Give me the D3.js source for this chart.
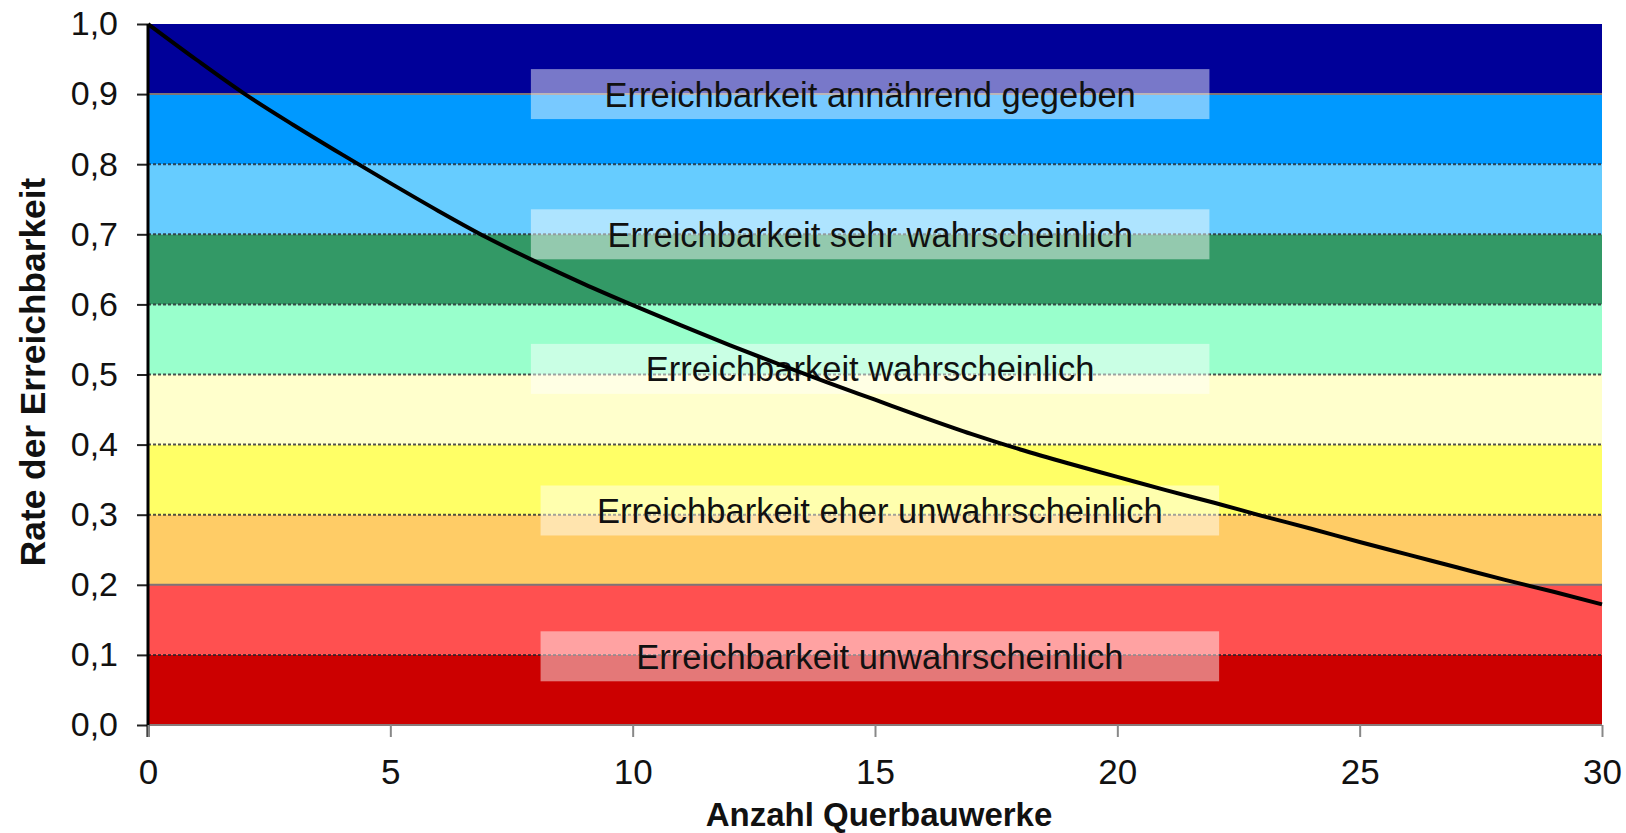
<!DOCTYPE html>
<html>
<head>
<meta charset="utf-8">
<script src="https://cdn.jsdelivr.net/npm/d3@7"></script>
<style>
  html, body { margin: 0; padding: 0; background: #fff; }
  svg { display: block; font-family: "Liberation Sans", Arial, sans-serif; }
</style>
</head>
<body>
<svg id="chart" width="1626" height="833"></svg>
<script>
// Anzahl Querbauwerke (x) and the resulting Rate der Erreichbarkeit (y)
const barrierCounts = [0, 1, 2, 3, 4, 5, 6, 7, 8, 9, 10, 11, 12, 13, 14, 15,
                       16, 17, 18, 19, 20, 21, 22, 23, 24, 25, 26, 27, 28, 29, 30];
const reachRate = [1.000, 0.949, 0.900, 0.856, 0.814, 0.773, 0.733, 0.695, 0.661, 0.629,
                   0.599, 0.570, 0.542, 0.515, 0.489, 0.464, 0.439, 0.415, 0.393, 0.373,
                   0.354, 0.335, 0.317, 0.298, 0.280, 0.261, 0.243, 0.225, 0.207, 0.190,
                   0.172];

// Background bands, 0.1 wide each, from bottom to top
const bandLower = [0.0, 0.1, 0.2, 0.3, 0.4, 0.5, 0.6, 0.7, 0.8, 0.9];
const bandColors = ["#cc0000", "#ff5050", "#ffcc66", "#ffff66", "#ffffcc",
                    "#99ffcc", "#339966", "#66ccff", "#0099ff", "#000099"];

// Zone labels and where they sit (y value of centre, x range of the box)
const zoneLabels = ["Erreichbarkeit annährend gegeben",
                    "Erreichbarkeit sehr wahrscheinlich",
                    "Erreichbarkeit wahrscheinlich",
                    "Erreichbarkeit eher unwahrscheinlich",
                    "Erreichbarkeit unwahrscheinlich"];
const zoneLabelY = [0.9, 0.7, 0.508, 0.306, 0.098];
const zoneLabelX0 = [7.9, 7.9, 7.9, 8.1, 8.1];
const zoneLabelX1 = [21.9, 21.9, 21.9, 22.1, 22.1];

const yTicks = [0, 0.1, 0.2, 0.3, 0.4, 0.5, 0.6, 0.7, 0.8, 0.9, 1.0];
const xTicks = [0, 5, 10, 15, 20, 25, 30];
const solidLines = [0.2, 0.9];

const margin = { left: 148, top: 24, right: 24, bottom: 108 };
const W = 1626, H = 833;
const iw = W - margin.left - margin.right;
const ih = H - margin.top - margin.bottom;

const svg = d3.select("#chart");
const g = svg.append("g").attr("transform", `translate(${margin.left},${margin.top})`);

const x = d3.scaleLinear().domain([0, 30]).range([0, iw]);
const y = d3.scaleLinear().domain([0, 1]).range([ih, 0]);

const isSolid = d => solidLines.some(s => Math.abs(s - d) < 1e-9);

// coloured bands
g.selectAll("rect.band").data(bandLower).join("rect")
  .attr("class", "band")
  .attr("x", 0)
  .attr("width", iw)
  .attr("y", d => y(d + 0.1))
  .attr("height", d => y(d) - y(d + 0.1))
  .attr("fill", (d, i) => bandColors[i]);

// horizontal band borders
const inner = yTicks.filter(v => v > 0 && v < 1);
g.selectAll("line.grid").data(inner).join("line")
  .attr("class", "grid")
  .attr("x1", 0).attr("x2", iw)
  .attr("y1", d => y(d)).attr("y2", d => y(d))
  .attr("stroke", d => isSolid(d) ? "#7f7477" : "#26262e")
  .attr("stroke-opacity", d => isSolid(d) ? 1 : 0.8)
  .attr("stroke-width", 2)
  .attr("stroke-dasharray", d => isSolid(d) ? null : "3,2");

// bottom edge of the plot
g.append("line")
  .attr("x1", 0).attr("x2", iw)
  .attr("y1", y(0)).attr("y2", y(0))
  .attr("stroke", "#8a7a7a").attr("stroke-width", 2);

// zone label boxes
const labels = g.selectAll("g.zone").data(zoneLabels).join("g").attr("class", "zone");
labels.append("rect")
  .attr("x", (d, i) => x(zoneLabelX0[i]))
  .attr("width", (d, i) => x(zoneLabelX1[i]) - x(zoneLabelX0[i]))
  .attr("y", (d, i) => y(zoneLabelY[i]) - 25)
  .attr("height", 50)
  .attr("fill", "#ffffff")
  .attr("fill-opacity", 0.47);

// curve
const line = d3.line()
  .x((d, i) => x(barrierCounts[i]))
  .y(d => y(d))
  .curve(d3.curveMonotoneX);
g.append("path")
  .datum(reachRate)
  .attr("d", line)
  .attr("fill", "none")
  .attr("stroke", "#000")
  .attr("stroke-width", 4);

labels.append("text")
  .attr("x", (d, i) => (x(zoneLabelX0[i]) + x(zoneLabelX1[i])) / 2)
  .attr("y", (d, i) => y(zoneLabelY[i]))
  .attr("dy", "0.36em")
  .attr("text-anchor", "middle")
  .attr("font-size", 34.5)
  .attr("fill", "#111")
  .text(d => d);

// y axis
const yAxis = d3.axisLeft(y).tickValues(yTicks)
  .tickFormat(d => d3.format(".1f")(d).replace(".", ","))
  .tickSize(11).tickPadding(19);
const ya = g.append("g").call(yAxis);
ya.select(".domain").remove();
ya.selectAll(".tick line").attr("stroke", "#222").attr("stroke-width", 2);
ya.selectAll(".tick text").attr("font-size", 34).attr("fill", "#111")
  .attr("font-family", "'Liberation Sans', Arial, sans-serif");
g.append("line")
  .attr("x1", 0).attr("x2", 0)
  .attr("y1", 0).attr("y2", ih + 12)
  .attr("stroke", "#000").attr("stroke-width", 3);

// x axis
const xAxis = d3.axisBottom(x).tickValues(xTicks).tickSize(12).tickPadding(22);
const xa = g.append("g").attr("transform", `translate(0,${ih})`).call(xAxis);
xa.select(".domain").remove();
xa.selectAll(".tick line").attr("stroke", "#888").attr("stroke-width", 2);
xa.selectAll(".tick text").attr("font-size", 35).attr("fill", "#111")
  .attr("font-family", "'Liberation Sans', Arial, sans-serif");

// axis titles
svg.append("text")
  .attr("x", margin.left + iw / 2 + 4)
  .attr("y", 826)
  .attr("text-anchor", "middle")
  .attr("font-size", 33)
  .attr("font-weight", "bold")
  .attr("fill", "#111")
  .text("Anzahl Querbauwerke");

svg.append("text")
  .attr("transform", "translate(45,372) rotate(-90)")
  .attr("text-anchor", "middle")
  .attr("font-size", 35.3)
  .attr("font-weight", "bold")
  .attr("fill", "#111")
  .text("Rate der Erreichbarkeit");
</script>
</body>
</html>
